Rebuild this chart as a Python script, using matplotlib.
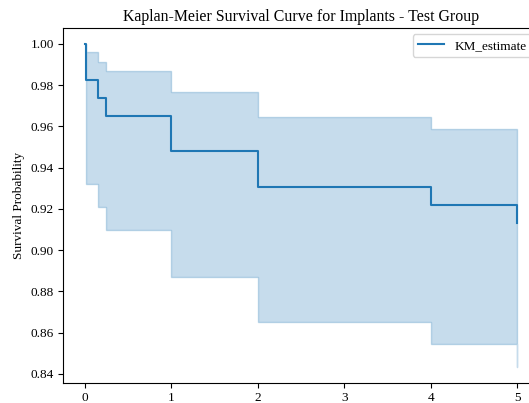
import matplotlib
matplotlib.use("Agg")
import matplotlib.pyplot as plt

plt.rcParams['font.family'] = ['Liberation Serif', 'DejaVu Serif']

timeline = [0.0, 0.01, 0.16, 0.25, 1.0, 2.0, 4.0, 5.0]
km_estimate = [1.0, 0.9826, 0.9739, 0.9652, 0.9478, 0.9304, 0.9217, 0.9130]
ci_upper = [1.0, 0.9958, 0.9914, 0.9869, 0.9766, 0.9647, 0.9586, 0.9510]
ci_lower = [1.0, 0.9320, 0.9210, 0.9097, 0.8871, 0.8652, 0.8542, 0.8435]

fig = plt.figure(figsize=(5.29, 4.03), dpi=100)
ax = fig.add_axes([63 / 529, 20.3 / 403, 476 / 529, 355 / 403])

ax.fill_between(timeline, ci_lower, ci_upper, step='post', color='#1f77b4',
                alpha=0.25, linewidth=1.0)
ax.plot(timeline, km_estimate, drawstyle='steps-post', color='#1f77b4',
        linewidth=1.5, label='KM_estimate')

ax.set_title('Kaplan-Meier Survival Curve for Implants - Test Group',
             fontsize=11.4, pad=5)
ax.set_ylabel('Survival Probability', fontsize=9.5, labelpad=4)
ax.tick_params(labelsize=9.5, length=3.3, pad=3.3)
ax.set_xticks([0, 1, 2, 3, 4, 5])
ax.legend(loc='upper right', fontsize=9.5)

fig.savefig('out.png', dpi=100)
